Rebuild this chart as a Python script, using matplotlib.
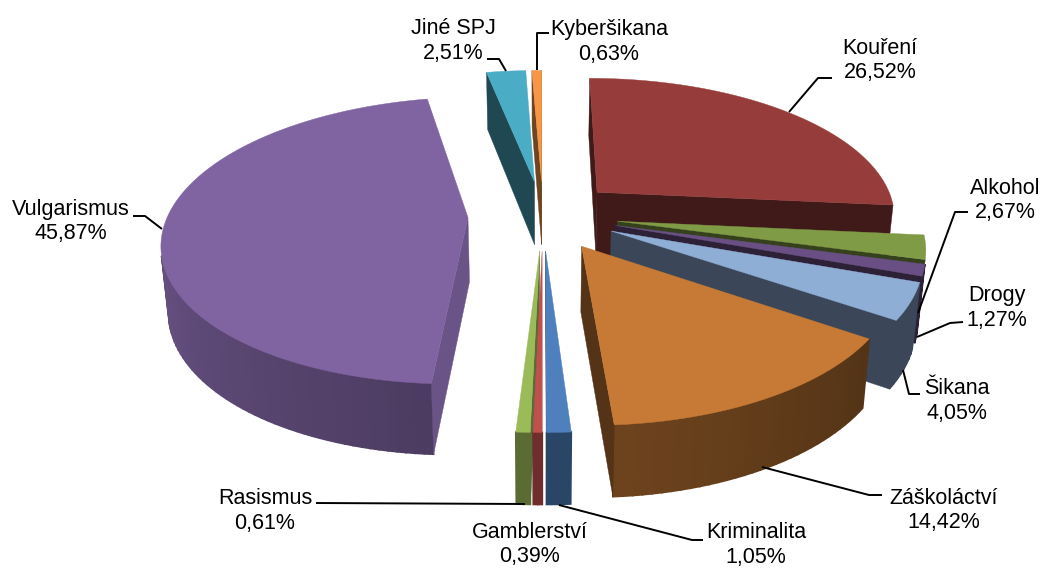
import numpy as np
import matplotlib
matplotlib.use("Agg")
import matplotlib.pyplot as plt
from matplotlib.patches import Polygon
from matplotlib.colors import to_rgb

categories = ["Kouření", "Alkohol", "Drogy", "Šikana", "Záškoláctví", "Kriminalita",
              "Gamblerství", "Rasismus", "Vulgarismus", "Jiné SPJ", "Kyberšikana"]
values = [26.52, 2.67, 1.27, 4.05, 14.42, 1.05, 0.39, 0.61, 45.87, 2.51, 0.63]
value_labels = ["26,52%", "2,67%", "1,27%", "4,05%", "14,42%", "1,05%",
                "0,39%", "0,61%", "45,87%", "2,51%", "0,63%"]

top_colors = ["#963D3B", "#7F9B45", "#6A4F84", "#8EAED6", "#C77A35", "#4D80BC",
              "#C0504D", "#9BBB59", "#8064A2", "#4BACC6", "#F79646"]
# shading of the walls: (start-cut, end-cut, rim at start, rim at end)
shades = [(.42, .42, .42, .42), (.42, .42, .42, .42), (.42, .42, .42, .42), (.42, .42, .42, .42),
          (.42, .42, .42, .55), (.55, .55, .55, .55), (.57, .57, .57, .57), (.58, .58, .58, .58),
          (.83, .6, .6, 1.05), (.42, .42, .42, .42), (.45, .45, .45, .45)]
side_override = {3: "#3B4759"}

# projection
CX, CY, RX, RY, K, EXPL = 543.0, 215.0, 300.0, 139.0, 0.161, 0.25
XSHRINK = 0.98


def project(X, Y):
    w = 1.0 / (1.0 + K * Y)
    return CX + RX * X * w, CY - RY * Y * w


def to_bottom(x, y, Y):
    depth = 64.5 - 6.0 * Y
    return CX + (x - CX) * XSHRINK, y + depth


fig = plt.figure(figsize=(10.41, 5.68), dpi=100)
ax = fig.add_axes([0, 0, 1, 1])
ax.set_xlim(0, 1041)
ax.set_ylim(568, 0)
ax.axis("off")

total = sum(values)
edges = np.concatenate([[0], np.cumsum(values)]) / total * 2 * np.pi
mids = (edges[:-1] + edges[1:]) / 2
order = np.argsort(-np.cos(mids))


def quad_area(p):
    p = np.asarray(p)
    x, y = p[:, 0], p[:, 1]
    return 0.5 * np.sum(x * np.roll(y, -1) - np.roll(x, -1) * y)


for z, i in enumerate(order):
    t0, t1, m = edges[i], edges[i + 1], mids[i]
    ox, oy = EXPL * np.sin(m), EXPL * np.cos(m)
    n = max(3, int((t1 - t0) / np.radians(1.5)))
    th = np.linspace(t0, t1, n)
    PX = np.concatenate([[ox], np.sin(th) + ox])
    PY = np.concatenate([[oy], np.cos(th) + oy])
    x, y = project(PX, PY)
    xb, yb = to_bottom(x, y, PY)
    base = np.array(to_rgb(top_colors[i]))
    s0, s1, r0, r1 = shades[i]
    m_pts = len(x)
    for j in range(m_pts):
        k = (j + 1) % m_pts
        q = [(x[j], y[j]), (x[k], y[k]), (xb[k], yb[k]), (xb[j], yb[j])]
        if quad_area(q) >= 0:
            continue
        is_cut = j == 0 or k == 0
        if j == 0:
            sh = s0
        elif k == 0:
            sh = s1
        else:
            sh = r0 + (r1 - r0) * (j - 1) / max(1, m_pts - 3)
        c = to_rgb(side_override[i]) if i in side_override else tuple(base * sh)
        ax.add_patch(Polygon(q, closed=True, fc=c, ec=c, lw=0.3 if is_cut else 1.2,
                             zorder=z * 3 + (1.5 if is_cut else 1)))
    ax.add_patch(Polygon(np.column_stack([x, y]), closed=True, fc=top_colors[i],
                         ec=top_colors[i], lw=0.3, zorder=z * 3 + 2))

# labels
label_xy = {"Kouření": (880, 48), "Alkohol": (1005, 188), "Drogy": (997, 296), "Šikana": (957, 389),
            "Záškoláctví": (944, 498), "Kriminalita": (756, 533), "Gamblerství": (530, 532),
            "Rasismus": (265, 499), "Vulgarismus": (71, 209), "Jiné SPJ": (453, 29),
            "Kyberšikana": (609, 30)}
for name, val in zip(categories, value_labels):
    lx, ly = label_xy[name]
    ax.text(lx, ly, name, ha="center", va="center", fontsize=15.5, family="Liberation Sans",
            color="black", zorder=100)
    ax.text(lx, ly + 24.5, val, ha="center", va="center", fontsize=15.5, family="Liberation Sans",
            color="black", zorder=100)

leaders = [
    [(487, 59), (499, 59), (506, 71)],
    [(549, 33), (537, 33), (537, 70)],
    [(832, 78), (818, 78), (789, 112)],
    [(968, 212), (955, 212), (918, 313)],
    [(963, 322), (950, 323), (917, 337)],
    [(920, 394), (909, 394), (903, 370)],
    [(882, 495), (869, 495), (762, 467)],
    [(703, 540), (692, 540), (559, 505)],
    [(316, 503), (525, 504)],
    [(133, 216), (145, 216), (162, 229)],
]
for pts in leaders:
    a = np.array(pts)
    ax.plot(a[:, 0], a[:, 1], color="black", lw=1.4, zorder=90, solid_capstyle="butt")

fig.savefig("out.png", dpi=100)
